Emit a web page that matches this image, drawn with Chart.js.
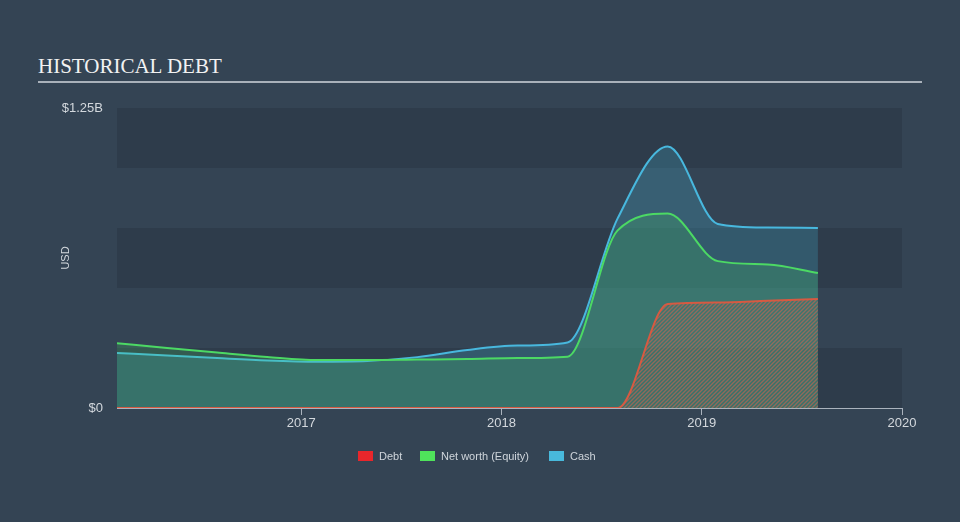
<!DOCTYPE html>
<html>
<head>
<meta charset="utf-8">
<title>Historical Debt</title>
<script src="https://cdn.jsdelivr.net/npm/chart.js@4/dist/chart.umd.min.js"></script>
<style>
    html, body {
        margin: 0;
        padding: 0;
        width: 960px;
        height: 522px;
        overflow: hidden;
        background: #344454;
        font-family: "Liberation Sans", Arial, sans-serif;
    }
    #chartTitle {
        position: absolute;
        left: 38px;
        top: 54px;
        font-family: "Liberation Serif", "Times New Roman", serif;
        font-size: 21px;
        color: #f2f2f2;
        white-space: nowrap;
    }
    #titleRule {
        position: absolute;
        left: 38px;
        top: 81px;
        width: 884px;
        height: 2px;
        background: #a9b1ba;
    }
    #debtChart {
        position: absolute;
        left: 0;
        top: 0;
    }
    .legend-item {
        position: absolute;
        top: 450px;
        height: 12px;
        font-size: 11px;
        line-height: 12px;
        color: #cfd5db;
        white-space: nowrap;
    }
    .legend-item i {
        display: inline-block;
        width: 15px;
        height: 10px;
        margin-right: 6px;
        vertical-align: -1px;
    }
</style>
</head>
<body>
<div id="chartTitle">HISTORICAL DEBT</div>
<div id="titleRule"></div>
<canvas id="debtChart" width="960" height="522"></canvas>
<div class="legend-item" style="left:358px"><i style="background:#e8262b"></i>Debt</div>
<div class="legend-item" style="left:420px"><i style="background:#4fe35b"></i>Net worth (Equity)</div>
<div class="legend-item" style="left:549px"><i style="background:#48b9dc"></i>Cash</div>

<script>
// ==================================================
// 1. DATA (USD billions, quarterly)
// ==================================================
const periods = [2016.08, 2016.33, 2016.58, 2016.83, 2017.08, 2017.33, 2017.58, 2017.83,
                 2018.08, 2018.33, 2018.58, 2018.83, 2019.08, 2019.33, 2019.58];
const debt   = [0, 0, 0, 0, 0, 0, 0, 0, 0, 0, 0, 0.433, 0.44, 0.447, 0.454];
const equity = [0.27, 0.25, 0.231, 0.213, 0.2, 0.2, 0.202, 0.204, 0.208, 0.214, 0.74, 0.81, 0.612, 0.598, 0.5625];
const cash   = [0.229, 0.219, 0.208, 0.198, 0.193, 0.196, 0.212, 0.242, 0.26, 0.273, 0.79, 1.09, 0.767, 0.752, 0.75];

const xTicks = [2017, 2018, 2019, 2020];
const yTicks = [0, 1.25];
const yTickLabels = ['$0', '$1.25B'];

// ==================================================
// 2. HELPERS
// ==================================================
function toPoints(values) {
    return values.map((v, i) => ({ x: periods[i], y: v }));
}

// diagonal hatch used under the debt line
function makeHatch() {
    const c = document.createElement('canvas');
    c.width = 4;
    c.height = 4;
    const g = c.getContext('2d');
    g.strokeStyle = 'rgba(205, 100, 80, 0.6)';
    g.lineWidth = 1.4;
    g.beginPath();
    g.moveTo(-1, 5); g.lineTo(5, -1);
    g.moveTo(-1, 1); g.lineTo(1, -1);
    g.moveTo(3, 5);  g.lineTo(5, 3);
    g.stroke();
    return g.createPattern(c, 'repeat');
}

// alternating horizontal bands behind the plot
const bandsPlugin = {
    id: 'bands',
    beforeDatasetsDraw(chart) {
        const { ctx, chartArea, scales } = chart;
        const y = scales.y;
        ctx.save();
        ctx.fillStyle = '#2e3c4b';
        [[0, 0.25], [0.5, 0.75], [1.0, 1.25]].forEach(([a, b]) => {
            const top = y.getPixelForValue(b);
            const bottom = y.getPixelForValue(a);
            ctx.fillRect(chartArea.left, top, chartArea.right - chartArea.left, bottom - top);
        });
        ctx.restore();
    }
};

// ==================================================
// 3. CHART
// ==================================================
Chart.defaults.font.family = "'Liberation Sans', Arial, sans-serif";
const axisColor = '#aab3bd';
const labelColor = '#d3d8dd';

new Chart(document.getElementById('debtChart'), {
    type: 'line',
    data: {
        datasets: [{
            label: 'Debt',
            data: toPoints(debt),
            borderColor: '#d65a42',
            backgroundColor: makeHatch(),
            fill: 'origin',
            borderWidth: 2,
            pointRadius: 0,
            cubicInterpolationMode: 'monotone'
        }, {
            label: 'Net worth (Equity)',
            data: toPoints(equity),
            borderColor: '#4cd964',
            backgroundColor: 'rgba(76, 217, 100, 0.2)',
            fill: 'origin',
            borderWidth: 2,
            pointRadius: 0,
            cubicInterpolationMode: 'monotone'
        }, {
            label: 'Cash',
            data: toPoints(cash),
            borderColor: '#48b8de',
            backgroundColor: 'rgba(71, 185, 220, 0.23)',
            fill: 'origin',
            borderWidth: 2,
            pointRadius: 0,
            cubicInterpolationMode: 'monotone'
        }]
    },
    options: {
        responsive: false,
        animation: false,
        layout: { padding: { left: 0, right: 58, top: 108, bottom: 0 } },
        plugins: {
            legend: { display: false },
            title: { display: false },
            tooltip: { enabled: false }
        },
        scales: {
            x: {
                type: 'linear',
                min: periods[0],
                max: 2020,
                afterBuildTicks: s => { s.ticks = xTicks.map(v => ({ value: v })); },
                afterFit: s => { s.height = 114; },
                ticks: {
                    autoSkip: false,
                    maxRotation: 0,
                    padding: 1,
                    color: labelColor,
                    font: { size: 13 },
                    callback: v => String(v)
                },
                grid: { drawOnChartArea: false, tickLength: 7, color: axisColor },
                border: { color: axisColor, width: 1 }
            },
            y: {
                min: 0,
                max: 1.25,
                afterBuildTicks: s => { s.ticks = yTicks.map(v => ({ value: v })); },
                afterFit: s => { s.width = 117; },
                ticks: {
                    padding: 14,
                    color: labelColor,
                    font: { size: 13 },
                    callback: v => yTickLabels[yTicks.indexOf(v)]
                },
                grid: { display: false, drawTicks: false },
                border: { display: false },
                title: {
                    display: true,
                    text: 'USD',
                    color: labelColor,
                    font: { size: 11 },
                    padding: { top: 59, bottom: 0 }
                }
            }
        }
    },
    plugins: [bandsPlugin]
});
</script>
</body>
</html>
